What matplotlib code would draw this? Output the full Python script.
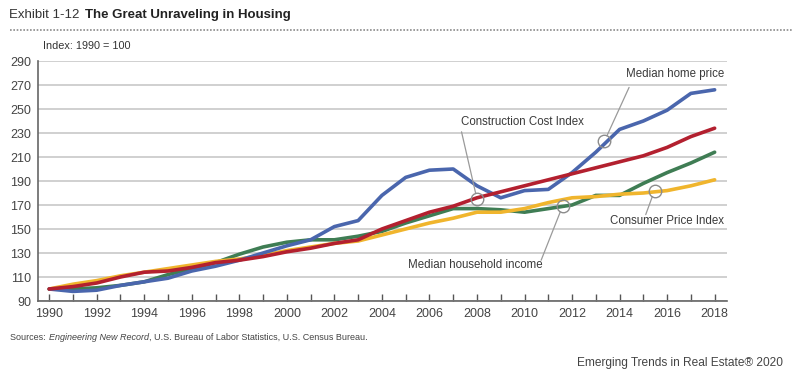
import matplotlib.pyplot as plt
import numpy as np

plt.rcParams['font.family'] = ['Liberation Sans', 'DejaVu Sans']

years = list(range(1990, 2019))
home_price = [100, 98, 99, 103, 106, 109, 115, 119, 124, 130, 136, 141, 152, 157,
              178, 193, 199, 200, 186, 176, 182, 183, 197, 214, 233, 240, 249, 263, 266]
construction = [100, 102, 105, 110, 114, 115, 118, 122, 124, 127, 131, 134, 138, 141,
                150, 157, 164, 169, 176, 181, 186, 191, 196, 201, 206, 211, 218, 227, 234]
income = [100, 100, 101, 103, 106, 112, 117, 122, 129, 135, 139, 141, 141, 144,
          148, 155, 161, 167, 167, 166, 164, 167, 170, 178, 178, 188, 197, 205, 214]
cpi = [100, 104, 107, 111, 114, 117, 120, 123, 125, 128, 132, 135, 138, 140,
       145, 150, 155, 159, 164, 164, 167, 172, 176, 177, 179, 180, 182, 186, 191]

series = [
    (income, '#3f7d54'),
    (cpi, '#f0b52d'),
    (home_price, '#4a66ad'),
    (construction, '#b3202f'),
]

# callouts: label, circle (year, value), text position, line end, alignment
callouts = [
    ("Median home price", (2013.36, 223), (2018.4, 279.5), (2014.4, 268), 'right'),
    ("Construction Cost Index", (2008.0, 175), (2009.9, 239.5), (2007.35, 231), 'center'),
    ("Median household income", (2011.6, 169), (2005.1, 120), (2010.7, 124), 'left'),
    ("Consumer Price Index", (2015.47, 182), (2018.4, 156.5), (2015.1, 162), 'right'),
]

fig = plt.figure(figsize=(8.01, 3.73), dpi=100)
ax = fig.add_axes([38 / 801, 1 - 301 / 373, (727 - 38) / 801, 240 / 373])

for vals, col in series:
    ax.plot(years, vals, color=col, lw=2.6, solid_capstyle='round', zorder=3)

for label, (cx, cy), (tx, ty), (lx, ly), ha in callouts:
    ax.annotate("", xy=(cx, cy), xytext=(lx, ly),
                arrowprops=dict(arrowstyle='-', color='#9a9a9a', lw=0.9,
                                shrinkA=0, shrinkB=4.5), zorder=4)
    ax.plot(cx, cy, 'o', ms=9, mfc='none', mec='#8c8c8c', mew=1.0, zorder=5)
    ax.text(tx, ty, label, ha=ha, va='center', fontsize=8.3, color='#3a3a3a', zorder=6)

ax.set_xlim(1989.53, 2018.52)
ax.set_ylim(90, 290)
ax.set_yticks(range(90, 291, 20))
ax.set_xticks(range(1990, 2019, 2))
ax.set_xticks(range(1990, 2019), minor=True)
ax.grid(axis='y', color='#c4c4c4', lw=1.1, zorder=0)
ax.tick_params(axis='y', length=0, pad=5, labelsize=9, labelcolor='#444444')
ax.tick_params(axis='x', which='both', direction='in', length=5, width=1.0,
               color='#555555', pad=5, labelsize=9, labelcolor='#444444')
for s in ['top', 'right']:
    ax.spines[s].set_visible(False)
for s in ['left', 'bottom']:
    ax.spines[s].set_color('#666666')
    ax.spines[s].set_linewidth(1.2)

fig.text(9 / 801, 1 - 15 / 373, "Exhibit 1-12", fontsize=9.5, color='#333333', va='center')
fig.text(85 / 801, 1 - 15 / 373, "The Great Unraveling in Housing", fontsize=9.5,
         fontweight='bold', color='#222222', va='center')
fig.add_artist(plt.Line2D([10 / 801, 793 / 801], [1 - 30 / 373] * 2, color='#8a8a8a',
                          lw=1.2, ls=(0, (1, 1))))
fig.text(43 / 801, 1 - 46 / 373, "Index: 1990 = 100", fontsize=7.8, color='#333333', va='center')

fig.text(10 / 801, 1 - 337 / 373, "Sources: ", fontsize=6.5, color='#444444', va='center')
fig.text(49 / 801, 1 - 337 / 373, "Engineering New Record", fontsize=6.5, style='italic',
         color='#444444', va='center')
fig.text(149 / 801, 1 - 337 / 373, ", U.S. Bureau of Labor Statistics, U.S. Census Bureau.",
         fontsize=6.5, color='#444444', va='center')
fig.text(783 / 801, 1 - 363 / 373, "Emerging Trends in Real Estate\u00ae 2020", fontsize=8.6,
         color='#444444', ha='right', va='center')

fig.savefig("out.png", dpi=100)
